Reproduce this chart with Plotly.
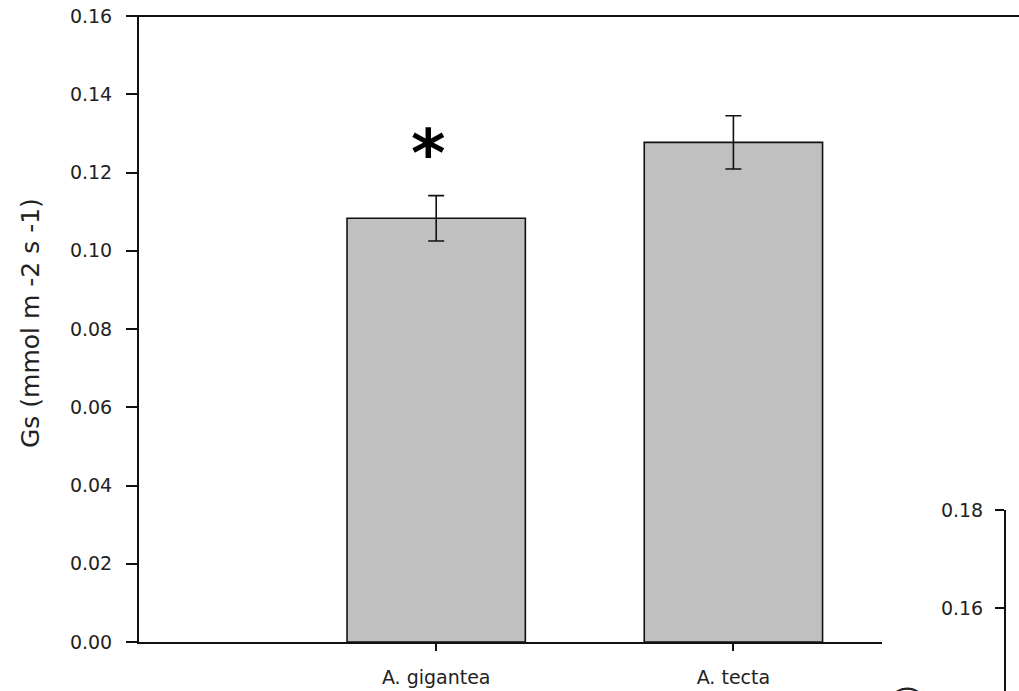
import plotly.graph_objects as go

# ---- data ----
categories = ["A. gigantea", "A. tecta"]
gs_mean = [0.1083, 0.1277]
gs_err = [0.0058, 0.0068]
y_ticks = [0.00, 0.02, 0.04, 0.06, 0.08, 0.10, 0.12, 0.14, 0.16]
y2_ticks = [0.16, 0.18]
y_title = "Gs (mmol m -2 s -1)"
signif = "*"

W, H = 1019, 691
def px(x):
    return x / W
def py(y):
    return (H - y) / H

FONT = "DejaVu Sans"
TXT = "#222222"

fig = go.Figure()
fig.add_trace(go.Bar(
    x=categories, y=gs_mean, width=0.6,
    marker=dict(color="#C0C0C0", line=dict(color="#111111", width=1.6)),
    error_y=dict(type="data", array=gs_err, visible=True, color="#111111",
                 thickness=1.6, width=8),
    showlegend=False, hoverinfo="skip",
))
# empty trace for the partially visible second panel
fig.add_trace(go.Scatter(x=[], y=[], xaxis="x2", yaxis="y2",
                         showlegend=False, hoverinfo="skip"))

fig.update_layout(
    width=W, height=H, autosize=False,
    margin=dict(l=0, r=0, t=0, b=0, pad=0, autoexpand=False),
    paper_bgcolor="white", plot_bgcolor="white",
    bargap=0.4,
    xaxis=dict(
        domain=[px(139), px(882)], range=[-1.0, 1.5], type="category",
        automargin=False,
        showline=True, linecolor="#111111", linewidth=2,
        ticks="outside", ticklen=7, tickwidth=1.5, tickcolor="#111111",
        showgrid=False, zeroline=False,
        tickfont=dict(family=FONT, size=19, color=TXT),
        ticklabelstandoff=10,
        anchor="y",
    ),
    yaxis=dict(
        domain=[py(642), py(16)], range=[0, 0.16],
        automargin=False,
        tickvals=y_ticks, tickformat=".2f",
        showline=True, linecolor="#111111", linewidth=2,
        ticks="outside", ticklen=11, tickwidth=1.5, tickcolor="#111111",
        showgrid=False, zeroline=False,
        tickfont=dict(family=FONT, size=19, color=TXT),
        ticklabelstandoff=10,
        anchor="x",
    ),
    xaxis2=dict(domain=[px(1006), 1.0], range=[0, 1], visible=False,
                automargin=False, anchor="y2"),
    yaxis2=dict(
        domain=[0, py(510)], range=[0.16 - (691 - 608) / 98 * 0.02, 0.18],
        automargin=False,
        tickvals=y2_ticks, tickformat=".2f",
        showline=True, linecolor="#111111", linewidth=2,
        ticks="outside", ticklen=9, tickwidth=1.5, tickcolor="#111111",
        showgrid=False, zeroline=False,
        tickfont=dict(family=FONT, size=19, color=TXT),
        ticklabelstandoff=8,
        anchor="x2",
    ),
    shapes=[
        dict(type="line", xref="paper", yref="paper",
             x0=px(128), x1=1.0, y0=py(16), y1=py(16),
             line=dict(color="#111111", width=2)),
    ],
    annotations=[
        dict(text=y_title, xref="paper", yref="paper",
             x=px(30), y=py(323), textangle=-90, showarrow=False,
             xanchor="center", yanchor="middle",
             font=dict(family=FONT, size=25, color=TXT)),
        dict(text=signif, xref="paper", yref="paper",
             x=px(428), y=py(153), showarrow=False,
             xanchor="center", yanchor="middle",
             font=dict(family=FONT, size=66, color="#000000", weight="bold")),
        dict(text=")", xref="paper", yref="paper",
             x=px(906), y=py(690), textangle=-90, showarrow=False,
             xanchor="center", yanchor="middle",
             font=dict(family=FONT, size=25, color=TXT)),
    ],
)

fig.write_html(
    "out.html",
    config={"responsive": False, "displayModeBar": False},
    post_script="document.body.style.margin='0';document.body.style.overflow='hidden';",
)
